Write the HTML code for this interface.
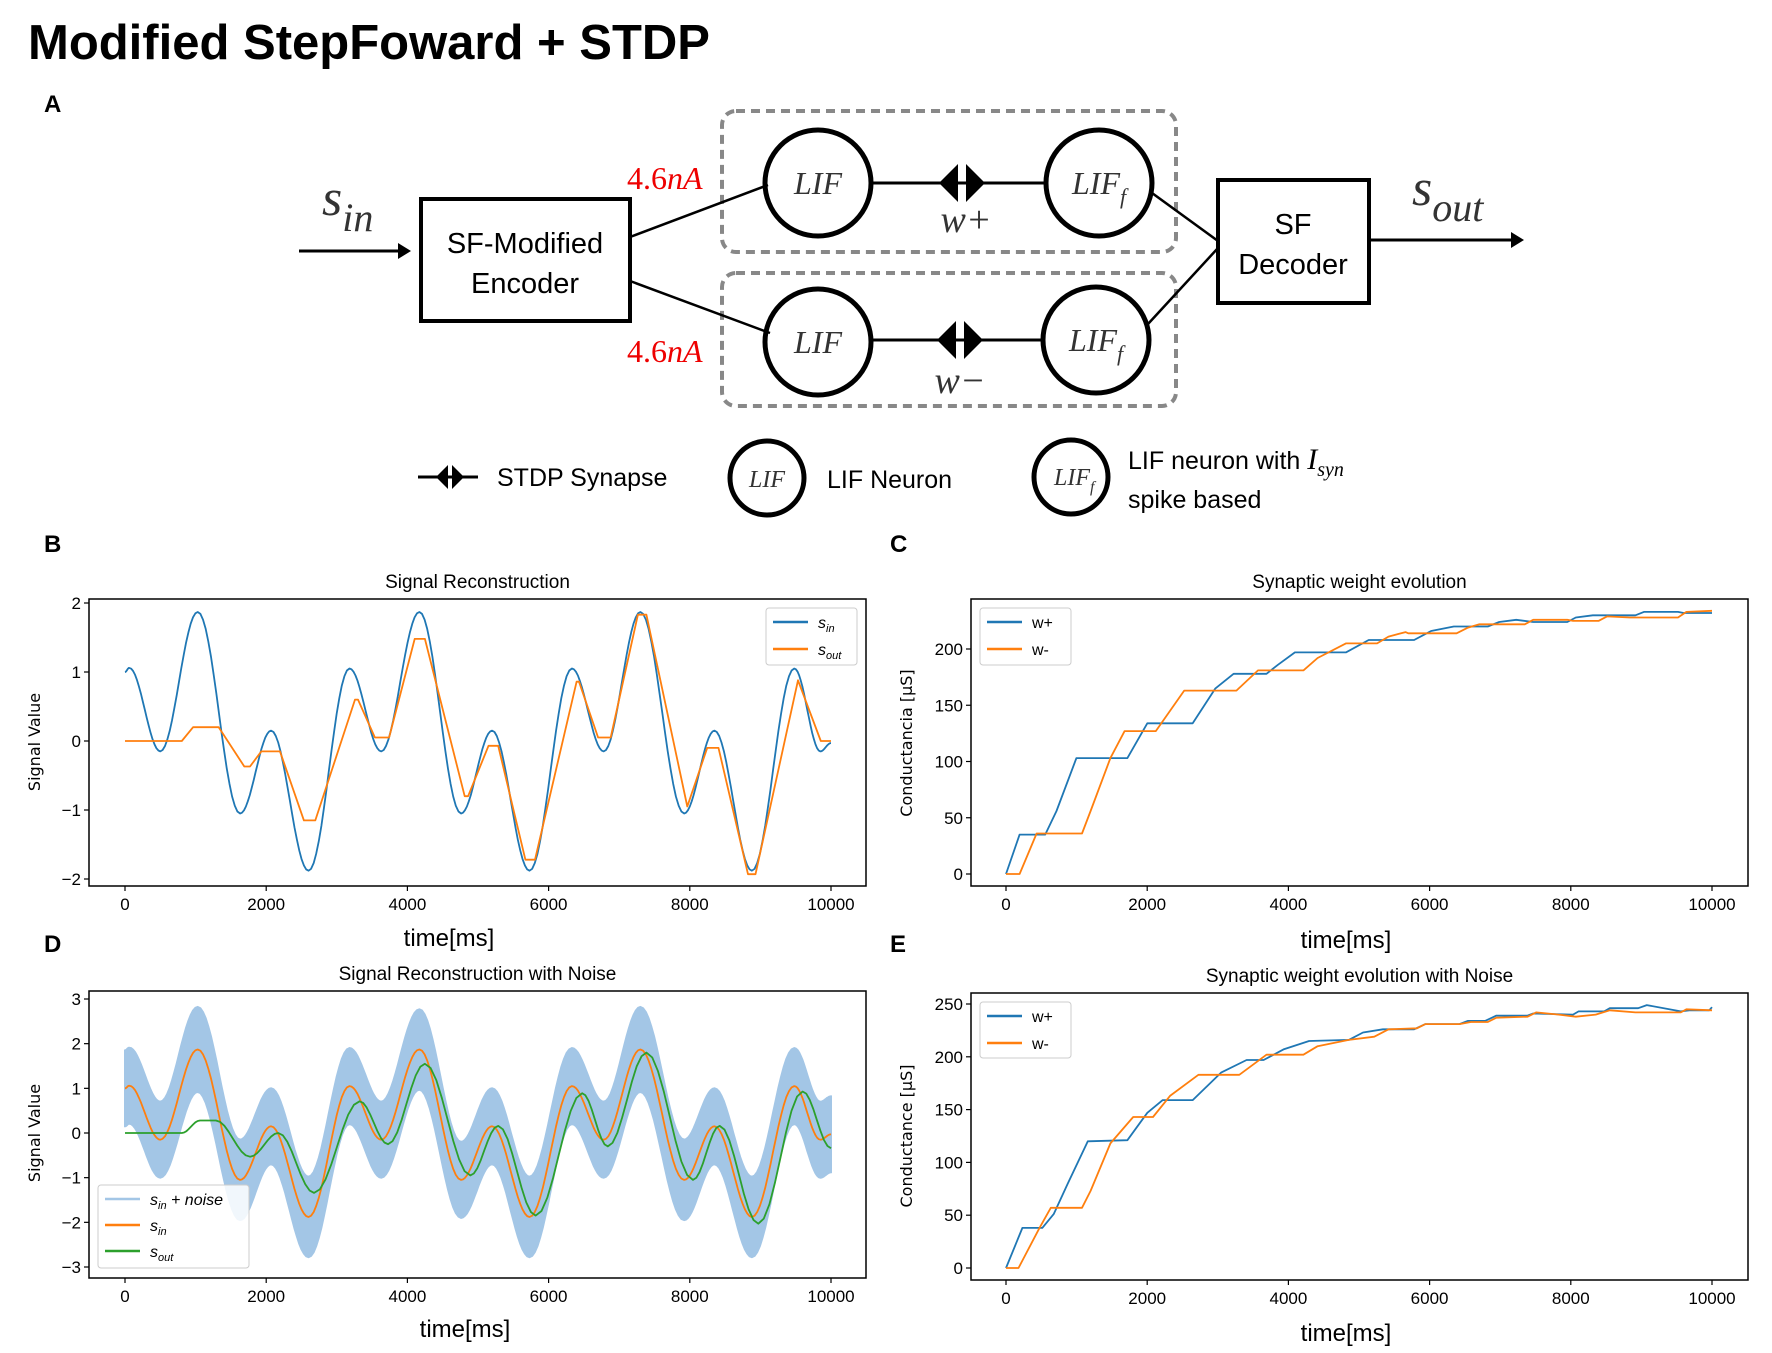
<!DOCTYPE html>
<html><head><meta charset="utf-8"><style>
html,body{margin:0;padding:0;background:#fff;}
svg{display:block;font-family:"Liberation Sans","DejaVu Sans",sans-serif;}
</style></head><body>
<svg id="fig" width="1772" height="1353" viewBox="0 0 1772 1353">
<text x="28" y="59" font-size="49" font-weight="bold">Modified StepFoward + STDP</text>
<g font-weight="bold" font-size="24">
<text x="44" y="112">A</text>
<text x="44" y="552">B</text>
<text x="890" y="552">C</text>
<text x="44" y="952">D</text>
<text x="890" y="952">E</text>
</g>
<!-- Diagram -->
<g stroke="#000" fill="none">
<rect x="722" y="111" width="454" height="141" rx="14" stroke="#888" stroke-width="4" stroke-dasharray="9,6"/>
<rect x="722" y="273" width="454" height="133" rx="14" stroke="#888" stroke-width="4" stroke-dasharray="9,6"/>
<line x1="299" y1="251" x2="400" y2="251" stroke-width="3"/>
<polygon points="411,251 398,243 398,259" fill="#000" stroke="none"/>
<rect x="421" y="199" width="209" height="122" stroke-width="4"/>
<rect x="1218" y="180" width="151" height="123" stroke-width="4"/>
<line x1="1369" y1="240" x2="1512" y2="240" stroke-width="3"/>
<polygon points="1524,240 1511,232 1511,248" fill="#000" stroke="none"/>
<line x1="630" y1="237" x2="768" y2="185" stroke-width="2.5"/>
<line x1="630" y1="281" x2="770" y2="333" stroke-width="2.5"/>
<line x1="1152" y1="193" x2="1218" y2="241" stroke-width="2.5"/>
<line x1="1148" y1="324" x2="1218" y2="248" stroke-width="2.5"/>
<line x1="871" y1="183" x2="1046" y2="183" stroke-width="3"/>
<line x1="871" y1="340" x2="1043" y2="340" stroke-width="3"/>
<circle cx="818" cy="183" r="53" stroke-width="5"/>
<circle cx="1099" cy="183" r="53" stroke-width="5"/>
<circle cx="818" cy="342" r="53" stroke-width="5"/>
<circle cx="1096" cy="340" r="53" stroke-width="5"/>
<g fill="#000" stroke="none">
<polygon points="939,183 958,164 958,202"/><polygon points="985,183 966,164 966,202"/></g>
<g fill="#000" stroke="none">
<polygon points="937,340 956,321 956,359"/><polygon points="983,340 964,321 964,359"/></g>
<circle cx="767" cy="478" r="37" stroke-width="5"/>
<circle cx="1071" cy="477" r="37" stroke-width="5"/>
<line x1="418" y1="477" x2="478" y2="477" stroke-width="3"/>
<g fill="#000" stroke="none">
<polygon points="436,477 448,465 448,489"/><polygon points="464,477 452,465 452,489"/></g>
</g>
<g font-size="29" text-anchor="middle" fill="#000">
<text x="525" y="253">SF-Modified</text>
<text x="525" y="293">Encoder</text>
<text x="1293" y="234">SF</text>
<text x="1293" y="274">Decoder</text>
</g>
<g font-family="Liberation Serif,serif" font-style="italic" fill="#333">
<text x="322" y="215" font-size="52">s<tspan font-size="40" dy="16">in</tspan></text>
<text x="1412" y="205" font-size="52">s<tspan font-size="40" dy="16">out</tspan></text>
<text x="818" y="194" font-size="32" text-anchor="middle">LIF</text>
<text x="818" y="353" font-size="32" text-anchor="middle">LIF</text>
<text x="1072" y="194" font-size="32">LIF<tspan font-size="22" dy="10">f</tspan></text>
<text x="1069" y="351" font-size="32">LIF<tspan font-size="22" dy="10">f</tspan></text>
<text x="966" y="232" font-size="38" text-anchor="middle">w+</text>
<text x="960" y="393" font-size="38" text-anchor="middle">w−</text>
<text x="767" y="487" font-size="24" text-anchor="middle">LIF</text>
<text x="1054" y="485" font-size="24">LIF<tspan font-size="16" dy="7">f</tspan></text>
<text x="627" y="189" font-size="32" fill="#e00" font-style="normal">4.6<tspan font-style="italic">nA</tspan></text>
<text x="627" y="362" font-size="32" fill="#e00" font-style="normal">4.6<tspan font-style="italic">nA</tspan></text>
</g>
<g font-size="25" fill="#000">
<text x="497" y="486">STDP Synapse</text>
<text x="827" y="488">LIF Neuron</text>
<text x="1128" y="469">LIF neuron with <tspan font-family="Liberation Serif,serif" font-style="italic" font-size="30">I</tspan><tspan font-family="Liberation Serif,serif" font-style="italic" font-size="20" dy="7">syn</tspan></text>
<text x="1128" y="508">spike based</text>
</g>
<g id="charts"></g>
</svg>
<script>
// ---- data ----
const sinT = [0,60,500,1030,1630,2070,2600,3180,3630,4170,4760,5200,5730,6330,6780,7300,7920,8350,8880,9480,9850,10000];
const sinV = [1.0,1.06,-0.15,1.87,-1.05,0.15,-1.88,1.05,-0.15,1.87,-1.05,0.15,-1.88,1.05,-0.15,1.87,-1.05,0.15,-1.88,1.05,-0.15,-0.03];
const soutBT = [0,805,965,1327,1690,1770,1930,2196,2534,2695,3258,3300,3540,3741,4103,4248,4811,4860,5149,5286,5672,5808,6396,6430,6701,6879,7265,7385,7964,8246,8407,8825,8930,9533,9855,10000];
const soutBV = [0,0,0.2,0.2,-0.37,-0.37,-0.15,-0.15,-1.15,-1.15,0.6,0.6,0.05,0.05,1.48,1.48,-0.8,-0.8,-0.07,-0.07,-1.72,-1.72,0.86,0.86,0.05,0.05,1.83,1.83,-0.95,-0.1,-0.1,-1.93,-1.93,0.88,0,0];
const soutDT = [0,805,1062,1287,1770,2172,2679,3323,3725,4248,4891,5286,5817,6476,6838,7385,8045,8423,8970,9598,10000];
const soutDV = [0,0,0.28,0.28,-0.53,0,-1.34,0.71,-0.25,1.55,-0.95,0.16,-1.85,0.89,-0.3,1.8,-1.05,0.16,-2.03,0.93,-0.34];
const noiseHalf = [0.85,0.85,0.85,0.95,0.9,0.85,0.9,0.85,0.85,0.9,0.85,0.85,0.9,0.85,0.85,0.95,0.9,0.85,0.9,0.85,0.85,0.85];
const wpCT = [0,193,555,716,997,1720,2002,2645,2966,3224,3690,3851,4092,4815,5137,5780,6021,6343,6825,6986,7227,7468,7950,8071,8312,8915,9036,9518,9598,10000];
const wpCV = [0,35,35,56,103,103,134,134,165,178,178,186,197,197,208,208,216,220,220,224,226,224,224,228,230,230,233,233,232,232];
const wmCT = [0,193,434,1077,1198,1479,1680,2122,2524,3264,3569,4212,4413,4815,5257,5418,5659,5699,6383,6544,6705,7348,7468,7950,8031,8393,8513,8835,9518,9638,10000];
const wmCV = [0,0,36,36,56,103,127,127,163,163,181,181,192,205,205,211,215,214,214,219,222,222,226,226,225,225,229,228,228,233,234];
const wpET = [0,233,514,675,876,1158,1720,2002,2219,2645,3047,3408,3649,3931,4293,4855,5056,5338,5780,5941,6423,6544,6786,6946,7388,7468,8031,8111,8473,8553,8955,9076,9558,9679,9960,10000];
const wpEV = [0,38,38,51,80,120,121,147,159,159,185,197,197,207,215,216,223,226,226,231,231,234,234,239,239,241,240,243,243,246,246,249,243,244,244,247];
const wmET = [0,177,474,635,1077,1198,1479,1801,2082,2323,2725,3304,3690,4212,4413,4855,5217,5418,5820,5941,6423,6584,6825,6946,7388,7508,7830,8071,8353,8553,8915,9558,9638,10000];
const wmEV = [0,0,38,57,57,73,118,143,143,163,183,183,202,202,210,216,219,226,227,231,231,233,233,237,238,242,240,238,240,244,242,242,245,244];
const xTicks = [0,2000,4000,6000,8000,10000];
const yTicksB = [-2,-1,0,1,2];
const yTicksD = [-3,-2,-1,0,1,2,3];
const yTicksC = [0,50,100,150,200];
const yTicksE = [0,50,100,150,200,250];

const NS='http://www.w3.org/2000/svg';
const root=document.getElementById('charts');
const BLUE='#1f77b4', ORANGE='#ff7f0e', GREEN='#2ca02c';
function mk(tag,attrs,parent){const e=document.createElementNS(NS,tag);for(const k in attrs)e.setAttribute(k,attrs[k]);(parent||root).appendChild(e);return e;}
function cosInterp(T,V,n){const out=[];for(let i=0;i<T.length-1;i++){for(let j=0;j<n;j++){const f=j/n,w=(1-Math.cos(Math.PI*f))/2;out.push([T[i]+(T[i+1]-T[i])*f,V[i]+(V[i+1]-V[i])*w]);}}out.push([T[T.length-1],V[V.length-1]]);return out;}
function linPts(T,V){return T.map((t,i)=>[t,V[i]]);}
function makeAxes(o){
  const g=mk('g',{});
  
  
  const sx=v=>o.x0+(v-o.xmin)/(o.xmax-o.xmin)*(o.x1-o.x0);
  const sy=v=>o.y0+(v-o.ymin)/(o.ymax-o.ymin)*(o.y1-o.y0);
  const cp='cp'+o.name;
  const d=mk('clipPath',{id:cp},g);mk('rect',{x:o.L,y:o.T,width:o.R-o.L,height:o.B-o.T},d);
  const plot=mk('g',{'clip-path':'url(#'+cp+')'},g);
  const t=mk('text',{x:(o.L+o.R)/2,y:o.T-11,'text-anchor':'middle','font-size':19},g);t.textContent=o.title;
  
  
  xTicks.forEach(v=>{const x=sx(v);mk('line',{x1:x,x2:x,y1:o.B,y2:o.B+5,stroke:'#000','stroke-width':1.2},g);
    const tx=mk('text',{x:x,y:o.B+24,'text-anchor':'middle','font-size':17},g);tx.textContent=v;
    
    });
  o.yt.forEach(v=>{const y=sy(v);mk('line',{x1:o.L-5,x2:o.L,y1:y,y2:y,stroke:'#000','stroke-width':1.2},g);
    const ty=mk('text',{x:o.L-8,y:y+6,'text-anchor':'end','font-size':17},g);ty.textContent=(v<0?'\u2212'+(-v):v);
    
    });
  const xl=mk('text',{x:o.xlx,y:o.xly,'text-anchor':'middle','font-size':24},g);xl.textContent='time[ms]';
  
  
  const yl=mk('text',{x:0,y:0,'text-anchor':'middle','font-size':16,'font-family':'DejaVu Sans,sans-serif',transform:`translate(${o.ylx},${o.yly}) rotate(-90)`},g);yl.textContent=o.ylabel;
  
  
  return {g,plot,sx,sy,frame(){const f=mk('rect',{x:o.L,y:o.T,width:o.R-o.L,height:o.B-o.T,fill:'none',stroke:'#000','stroke-width':1.5},g);}};
}
function line(ax,pts,color,w,name){const p=mk('polyline',{points:pts.map(q=>ax.sx(q[0]).toFixed(1)+','+ax.sy(q[1]).toFixed(1)).join(' '),fill:'none',stroke:color,'stroke-width':w,'stroke-linejoin':'round'},ax.plot);
  
  return p;}
function legend(ax,x,y,w,h,items){const lg=mk('g',{},ax.g);
  
  
  mk('rect',{x:x,y:y,width:w,height:h,rx:3,fill:'#fff','fill-opacity':0.85,stroke:'#ccc','stroke-width':1},lg);
  items.forEach((it,i)=>{const yy=y+14+i*it.dy;mk('line',{x1:x+7,x2:x+42,y1:yy,y2:yy,stroke:it.c,'stroke-width':it.w||2.5,'stroke-opacity':it.op||1},lg);
    const t=mk('text',{x:x+52,y:yy+6,'font-size':16,'font-style':it.it?'italic':'normal'},lg);t.innerHTML=it.label;
    
    });}

// B
const axB=makeAxes({name:'chart-signal-reconstruction',L:89,R:866,T:599,B:886,x0:125,x1:831,xmin:0,xmax:10000,y0:603,y1:879,ymin:2,ymax:-2,yt:yTicksB,title:'Signal Reconstruction',xlx:449,xly:946,ylx:40,yly:742,ylabel:'Signal Value'});
line(axB,cosInterp(sinT,sinV,16),BLUE,1.8,'s-in-line');
line(axB,linPts(soutBT,soutBV),ORANGE,1.8,'s-out-line');
axB.frame();
legend(axB,766,608,91,57,[{c:BLUE,dy:27,it:true,label:'s<tspan font-size="11" dy="4">in</tspan>'},{c:ORANGE,dy:27,it:true,label:'s<tspan font-size="11" dy="4">out</tspan>'}]);

// C
const axC=makeAxes({name:'chart-synaptic-weight',L:971,R:1748,T:599,B:886,x0:1006,x1:1712,xmin:0,xmax:10000,y0:874,y1:649,ymin:0,ymax:200,yt:yTicksC,title:'Synaptic weight evolution',xlx:1346,xly:948,ylx:912,yly:743,ylabel:'Conductancia [\u03bcS]'});
line(axC,linPts(wpCT,wpCV),BLUE,1.8,'w-plus-line');
line(axC,linPts(wmCT,wmCV),ORANGE,1.8,'w-minus-line');
axC.frame();
legend(axC,980,608,91,57,[{c:BLUE,dy:27,label:'w+'},{c:ORANGE,dy:27,label:'w-'}]);

// D
const axD=makeAxes({name:'chart-signal-reconstruction-noise',L:89,R:866,T:991,B:1278,x0:125,x1:831,xmin:0,xmax:10000,y0:999,y1:1267,ymin:3,ymax:-3,yt:yTicksD,title:'Signal Reconstruction with Noise',xlx:465,xly:1337,ylx:40,yly:1133,ylabel:'Signal Value'});
{const up=cosInterp(sinT,sinV.map((v,i)=>v+noiseHalf[i]),16),lo=cosInterp(sinT,sinV.map((v,i)=>v-noiseHalf[i]),16);
 const pts=up.concat(lo.reverse());
 const band=mk('polygon',{points:pts.map(q=>axD.sx(q[0]).toFixed(1)+','+axD.sy(q[1]).toFixed(1)).join(' '),fill:'#a3c6e6',stroke:'#a3c6e6','stroke-width':2},axD.plot);
 
 }
line(axD,cosInterp(sinT,sinV,16),ORANGE,1.8,'s-in-line');
line(axD,cosInterp(soutDT,soutDV,8),GREEN,1.8,'s-out-line');
axD.frame();
legend(axD,98,1185,151,83,[{c:'#a3c6e6',dy:26,it:true,label:'s<tspan font-size="11" dy="4">in</tspan><tspan dy="-4"> + noise</tspan>'},{c:ORANGE,dy:26,it:true,label:'s<tspan font-size="11" dy="4">in</tspan>'},{c:GREEN,dy:26,it:true,label:'s<tspan font-size="11" dy="4">out</tspan>'}]);

// E
const axE=makeAxes({name:'chart-synaptic-weight-noise',L:971,R:1748,T:993,B:1280,x0:1006,x1:1712,xmin:0,xmax:10000,y0:1268,y1:1004,ymin:0,ymax:250,yt:yTicksE,title:'Synaptic weight evolution with Noise',xlx:1346,xly:1341,ylx:912,yly:1136,ylabel:'Conductance [\u03bcS]'});
line(axE,linPts(wpET,wpEV),BLUE,1.8,'w-plus-line');
line(axE,linPts(wmET,wmEV),ORANGE,1.8,'w-minus-line');
axE.frame();
legend(axE,980,1002,91,56,[{c:BLUE,dy:27,label:'w+'},{c:ORANGE,dy:27,label:'w-'}]);
</script>
</body></html>
